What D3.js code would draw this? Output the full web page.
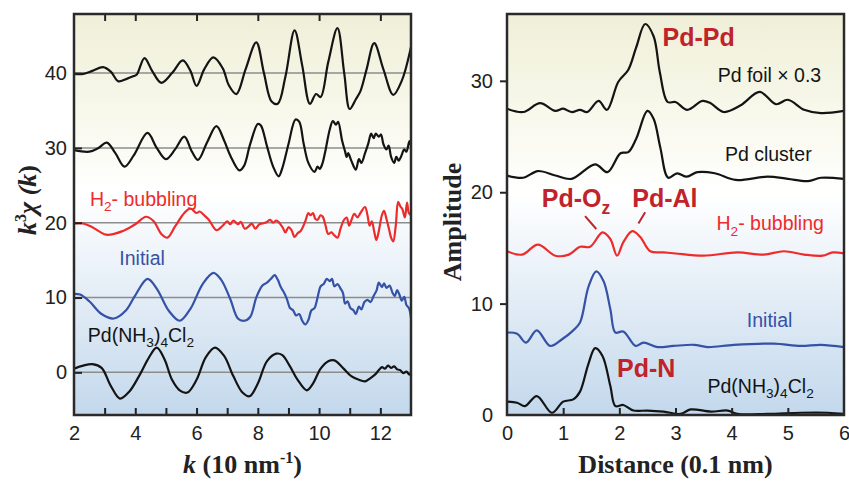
<!DOCTYPE html>
<html>
<head>
<meta charset="utf-8">
<script src="https://cdn.jsdelivr.net/npm/d3@7"></script>
<style>
  body { margin: 0; background: #fff; }
  svg { display: block; }
</style>
</head>
<body>
<svg width="849" height="481"></svg>
<script>
// ---- left panel: k^3 chi(k), offset curves ----
var kFoil = [[2.0,39.9],[2.3,39.9],[2.6,40.3],[2.95,40.8],[3.2,40.2],[3.45,38.9],[3.7,39.2],[3.95,39.6],[4.05,39.8],[4.3,42.0],[4.55,40.3],[4.85,38.7],[5.2,40.0],[5.55,41.7],[5.8,40.3],[6.0,38.3],[6.25,40.5],[6.55,42.1],[6.86,40.6],[7.05,38.4],[7.3,37.2],[7.6,40.5],[7.95,44.1],[8.2,40.0],[8.45,36.2],[8.65,35.9],[8.9,39.5],[9.2,45.7],[9.45,41.0],[9.7,35.9],[9.9,37.2],[10.05,36.8],[10.3,41.5],[10.6,46.0],[10.82,40.0],[11.0,35.2],[11.2,36.5],[11.35,37.6],[11.55,40.5],[11.8,44.0],[12.1,40.5],[12.42,37.1],[12.7,39.0],[13.0,43.5]];
var kCluster = [[2.0,29.7],[2.5,29.5],[2.8,30.0],[3.07,30.7],[3.35,29.3],[3.65,27.5],[3.95,29.0],[4.4,32.0],[4.7,30.0],[5.0,28.5],[5.3,29.8],[5.6,31.5],[5.85,29.5],[6.05,28.4],[6.35,30.8],[6.65,32.9],[6.9,31.0],[7.1,29.0],[7.4,27.0],[7.55,27.6],[7.75,30.5],[8.0,33.2],[8.1,33.0],[8.3,30.2],[8.5,27.5],[8.68,26.2],[8.8,27.3],[9.0,30.5],[9.23,33.8],[9.35,33.5],[9.5,30.5],[9.65,28.0],[9.85,26.8],[9.95,27.5],[10.02,27.2],[10.1,27.8],[10.2,29.5],[10.35,32.5],[10.45,33.6],[10.55,33.1],[10.62,33.5],[10.75,31.0],[10.85,29.5],[10.9,28.8],[10.95,29.3],[11.05,28.3],[11.2,27.1],[11.3,28.5],[11.38,28.0],[11.5,29.3],[11.6,30.5],[11.7,31.9],[11.78,31.3],[11.85,31.9],[11.95,31.5],[12.02,31.8],[12.1,30.5],[12.2,29.8],[12.27,30.3],[12.35,28.8],[12.45,28.0],[12.52,28.8],[12.6,28.3],[12.68,28.9],[12.78,29.8],[12.85,29.5],[12.95,30.9],[13.0,30.3]];
var kH2 = [[2.0,19.9],[2.3,19.9],[2.6,19.4],[3.05,18.4],[3.6,18.9],[4.0,19.8],[4.35,20.8],[4.6,20.2],[4.85,18.5],[5.05,18.0],[5.3,19.5],[5.6,21.3],[5.8,21.9],[6.0,21.3],[6.1,21.5],[6.25,21.0],[6.4,20.4],[6.65,19.0],[6.85,19.6],[7.0,20.2],[7.1,19.8],[7.2,20.3],[7.35,19.8],[7.45,20.1],[7.57,19.2],[7.7,19.5],[7.8,19.9],[7.92,19.2],[8.05,19.8],[8.15,19.9],[8.3,20.1],[8.4,20.4],[8.5,20.0],[8.6,20.3],[8.7,20.0],[8.82,19.3],[8.9,18.7],[9.0,19.4],[9.1,19.0],[9.2,18.1],[9.3,18.6],[9.4,18.9],[9.55,20.2],[9.65,21.3],[9.72,21.0],[9.8,21.3],[9.88,20.5],[9.95,20.4],[10.05,21.0],[10.12,20.8],[10.2,19.8],[10.3,18.5],[10.4,18.7],[10.5,18.3],[10.6,18.0],[10.7,19.2],[10.8,20.3],[10.9,20.7],[10.98,19.6],[11.05,20.3],[11.15,21.2],[11.25,20.7],[11.35,21.3],[11.5,22.1],[11.58,21.0],[11.65,19.6],[11.72,20.2],[11.8,18.8],[11.87,17.7],[11.95,18.9],[12.05,21.0],[12.12,21.6],[12.2,20.5],[12.28,19.2],[12.35,18.0],[12.42,17.5],[12.5,19.5],[12.58,22.8],[12.65,22.2],[12.72,21.8],[12.8,20.7],[12.87,22.7],[12.93,21.3],[13.0,21.0]];
var kInitial = [[2.0,10.5],[2.2,10.4],[2.5,9.5],[2.9,7.8],[3.3,7.2],[3.7,8.3],[4.0,10.3],[4.4,12.5],[4.7,11.2],[5.1,8.2],[5.45,6.9],[5.8,8.5],[6.2,11.8],[6.55,13.3],[6.8,12.4],[7.1,9.8],[7.35,7.2],[7.55,6.9],[7.75,7.4],[7.95,10.0],[8.15,11.6],[8.3,12.0],[8.45,12.6],[8.55,13.0],[8.65,12.4],[8.75,11.4],[8.85,10.7],[8.95,9.8],[9.05,8.6],[9.15,8.3],[9.25,7.6],[9.35,7.8],[9.45,6.9],[9.55,6.4],[9.65,7.0],[9.75,8.3],[9.85,8.6],[9.95,10.0],[10.05,11.5],[10.15,11.8],[10.25,12.5],[10.35,12.2],[10.42,12.5],[10.5,11.5],[10.6,11.8],[10.7,11.2],[10.78,10.6],[10.85,9.2],[10.93,9.5],[11.02,8.6],[11.12,8.3],[11.2,7.8],[11.3,8.8],[11.38,8.4],[11.48,9.4],[11.58,9.7],[11.68,9.4],[11.78,10.2],[11.88,11.0],[11.95,12.0],[12.05,11.4],[12.12,11.9],[12.2,11.3],[12.3,11.6],[12.4,10.6],[12.47,10.2],[12.55,11.0],[12.62,10.4],[12.7,9.6],[12.78,10.1],[12.85,9.0],[12.93,8.6],[13.0,7.3]];
var kComplex = [[2.0,0.5],[2.3,0.9],[2.6,1.1],[2.9,0.6],[3.2,-1.8],[3.5,-3.5],[3.8,-2.6],[4.15,-0.3],[4.45,2.0],[4.7,3.3],[4.95,1.8],[5.2,-1.0],[5.45,-2.4],[5.7,-2.7],[6.0,-1.0],[6.3,2.0],[6.6,3.3],[6.9,2.2],[7.2,-0.5],[7.5,-2.7],[7.73,-3.2],[8.0,-1.5],[8.3,1.5],[8.6,2.5],[8.8,2.3],[9.05,0.8],[9.3,-1.0],[9.6,-2.4],[9.8,-1.5],[10.05,0.5],[10.3,1.5],[10.5,1.6],[10.8,0.5],[11.05,-0.5],[11.3,-1.0],[11.5,-1.2],[11.7,-0.7],[11.85,-0.2],[11.95,0.3],[12.05,0.7],[12.15,0.5],[12.25,0.9],[12.35,0.6],[12.45,0.8],[12.55,0.4],[12.65,0.3],[12.75,-0.1],[12.85,0.1],[12.95,-0.3],[13.0,-0.1]];

// ---- right panel: FT amplitude vs distance ----
var rFoil = [[0,27.5],[0.29,27.2],[0.59,28.0],[0.86,27.3],[1.0,27.5],[1.15,27.2],[1.3,27.4],[1.43,27.2],[1.63,28.2],[1.78,27.4],[1.98,29.9],[2.16,31.0],[2.3,33.0],[2.46,35.1],[2.61,34.0],[2.72,30.8],[2.86,28.1],[3.0,28.1],[3.21,27.4],[3.48,28.2],[3.62,28.0],[3.86,27.2],[4.16,27.8],[4.5,29.0],[4.79,27.9],[5.0,28.3],[5.29,27.4],[5.59,27.1],[6.0,27.3]];
var rCluster = [[0,21.5],[0.29,21.3],[0.55,21.9],[0.86,21.5],[1.15,21.2],[1.57,22.5],[1.79,21.8],[2.02,23.5],[2.16,23.6],[2.3,24.8],[2.5,27.3],[2.61,26.6],[2.73,24.0],[2.87,21.3],[3.03,21.7],[3.2,21.4],[3.39,21.8],[3.7,21.7],[4.07,21.1],[4.64,21.4],[5.0,21.2],[5.36,21.0],[5.59,21.3],[6.0,21.2]];
var rH2 = [[0,14.7],[0.27,14.4],[0.55,15.3],[0.86,14.3],[1.1,14.4],[1.3,15.1],[1.48,15.1],[1.7,16.4],[1.84,15.8],[1.96,14.3],[2.07,15.5],[2.23,16.5],[2.37,16.0],[2.55,14.7],[2.79,14.6],[3.0,14.5],[3.5,14.3],[4.1,14.6],[4.57,14.4],[4.93,14.7],[5.29,14.4],[5.62,14.3],[5.8,14.6],[6.0,14.5]];
var rInitial = [[0,7.4],[0.18,7.3],[0.34,6.5],[0.53,7.6],[0.77,6.2],[0.98,6.8],[1.18,7.6],[1.3,8.3],[1.45,11.5],[1.59,12.9],[1.72,12.0],[1.84,9.5],[1.93,7.4],[2.07,7.5],[2.29,6.2],[2.43,6.5],[2.68,6.1],[2.96,6.2],[3.33,6.3],[3.57,6.1],[4.04,6.3],[4.75,6.4],[5.23,6.2],[5.59,6.3],[6.0,6.1]];
var rComplex = [[0,1.2],[0.18,1.1],[0.32,0.8],[0.53,1.7],[0.8,0.2],[1.0,1.2],[1.18,1.4],[1.3,2.1],[1.45,4.6],[1.57,6.0],[1.7,5.3],[1.84,2.6],[1.93,0.8],[2.07,0.9],[2.25,0.4],[2.5,0.4],[2.79,0.3],[3.09,0.1],[3.27,0.5],[3.63,0.3],[3.93,0.4],[4.1,0.1],[4.64,0.1],[5.23,0.2],[5.71,0.2],[6.0,0.1]];

var kTickLabels = [2, 4, 6, 8, 10, 12];
var chiTicks = [0, 10, 20, 30, 40];
var distTicks = [0, 1, 2, 3, 4, 5, 6];
var ampTicks = [0, 10, 20, 30];

var black = "#141414", red = "#ee2b2b", blue = "#3552a6", darkRed = "#c0232b";

var svg = d3.select("svg");
var sans = "'Liberation Sans', Arial, sans-serif",
  serif = "'Liberation Serif', 'Times New Roman', serif";

var defs = svg.append("defs");
var grad = defs.append("linearGradient")
  .attr("id", "bg").attr("x1", 0).attr("y1", 0).attr("x2", 0).attr("y2", 1);
grad.append("stop").attr("offset", "0%").attr("stop-color", "#efefd8");
grad.append("stop").attr("offset", "25%").attr("stop-color", "#f8f8ec");
grad.append("stop").attr("offset", "45%").attr("stop-color", "#ffffff");
grad.append("stop").attr("offset", "100%").attr("stop-color", "#c3d8ec");

var plotTop = 14, plotBottom = 415;

var xL = d3.scaleLinear().domain([2, 13]).range([74, 411]);
var yL = d3.scaleLinear().domain([-5.7, 47.9]).range([plotBottom, plotTop]);
var xR = d3.scaleLinear().domain([0, 6]).range([507, 844]);
var yR = d3.scaleLinear().domain([0, 36.0]).range([plotBottom, plotTop]);

function panel(id, x, y) {
  var g = svg.append("g");
  var x0 = x.range()[0], x1 = x.range()[1];
  defs.append("clipPath").attr("id", id)
    .append("rect").attr("x", x0).attr("y", plotTop).attr("width", x1 - x0).attr("height", plotBottom - plotTop);
  g.append("rect")
    .attr("x", x0).attr("y", plotTop).attr("width", x1 - x0).attr("height", plotBottom - plotTop)
    .attr("fill", "url(#bg)");
  return g;
}

function drawCurve(g, id, x, y, data, color) {
  var line = d3.line()
    .x(function(d) { return x(d[0]); })
    .y(function(d) { return y(d[1]); })
    .curve(d3.curveCatmullRom.alpha(0.5));
  g.append("path")
    .datum(data)
    .attr("clip-path", "url(#" + id + ")")
    .attr("d", line)
    .attr("fill", "none")
    .attr("stroke", color)
    .attr("stroke-width", 2.2)
    .attr("stroke-linejoin", "round");
}

function label(g, x, y, pos, parts, size, color, weight) {
  var t = g.append("text")
    .attr("x", x(pos[0])).attr("y", y(pos[1]))
    .attr("font-family", sans).attr("font-size", size)
    .attr("font-weight", weight || "normal")
    .attr("fill", color);
  parts.forEach(function(p) {
    var s = t.append("tspan").text(p[0]);
    if (p[1] === "sub") s.attr("dy", size * 0.28).attr("font-size", size * 0.7);
    if (p[1] === "back") s.attr("dy", -size * 0.28);
  });
  return t;
}

function styleAxis(a) {
  a.select(".domain").remove();
  a.selectAll("text").attr("font-family", sans).attr("font-size", 20).attr("fill", "#222");
  a.selectAll("line").attr("stroke", "#222").attr("stroke-width", 2);
}

// ---------- left panel ----------
var gL = panel("clipL", xL, yL);

gL.selectAll(".grid").data(chiTicks).enter().append("line")
  .attr("x1", xL(2)).attr("x2", xL(13))
  .attr("y1", function(d) { return yL(d); }).attr("y2", function(d) { return yL(d); })
  .attr("stroke", "#8c8c8c").attr("stroke-width", 1.5);

drawCurve(gL, "clipL", xL, yL, kFoil, black);
drawCurve(gL, "clipL", xL, yL, kCluster, black);
drawCurve(gL, "clipL", xL, yL, kH2, red);
drawCurve(gL, "clipL", xL, yL, kInitial, blue);
drawCurve(gL, "clipL", xL, yL, kComplex, black);

// inward tick marks
gL.append("g").attr("transform", "translate(0," + plotBottom + ")")
  .call(d3.axisBottom(xL).tickValues(d3.range(3, 13)).tickSize(-7).tickFormat(""))
  .call(styleAxis);
gL.append("g").attr("transform", "translate(0," + plotTop + ")")
  .call(d3.axisTop(xL).tickValues([3, 4, 6, 8, 10, 12]).tickSize(-7).tickFormat(""))
  .call(styleAxis);
gL.append("g").attr("transform", "translate(" + xL(2) + ",0)")
  .call(d3.axisLeft(yL).tickValues(chiTicks).tickSize(-8).tickFormat(""))
  .call(styleAxis);
// labels
gL.append("g").attr("transform", "translate(0," + plotBottom + ")")
  .call(d3.axisBottom(xL).tickValues(kTickLabels).tickSize(0).tickPadding(11))
  .call(styleAxis)
  .selectAll("text").attr("dy", "0.71em");
gL.append("g").attr("transform", "translate(" + xL(2) + ",0)")
  .call(d3.axisLeft(yL).tickValues(chiTicks).tickSize(0).tickPadding(7))
  .call(styleAxis);

gL.append("rect")
  .attr("x", xL(2)).attr("y", plotTop).attr("width", xL(13) - xL(2)).attr("height", plotBottom - plotTop)
  .attr("fill", "none").attr("stroke", "#2a2a2a").attr("stroke-width", 2.5);

label(gL, xL, yL, [2.52, 22.3], [["H"], ["2", "sub"], ["- bubbling", "back"]], 19.5, red);
label(gL, xL, yL, [3.48, 14.3], [["Initial"]], 19.5, blue);
label(gL, xL, yL, [2.45, 4.1], [["Pd(NH"], ["3", "sub"], [")", "back"], ["4", "sub"], ["Cl", "back"], ["2", "sub"]], 19.5, black);

// axis titles
var yt = svg.append("text")
  .attr("transform", "translate(36," + 200 + ") rotate(-90)")
  .attr("text-anchor", "middle")
  .attr("font-family", serif).attr("font-size", 26).attr("font-weight", "bold").attr("fill", "#222");
yt.append("tspan").attr("font-style", "italic").text("k");
yt.append("tspan").attr("dy", -10).attr("font-size", 16).text("3");
yt.append("tspan").attr("dy", 10).attr("font-style", "italic").text("\u03c7 (");
yt.append("tspan").attr("font-style", "italic").text("k");
yt.append("tspan").text(")");

var xt = svg.append("text")
  .attr("x", (xL(2) + xL(13)) / 2).attr("y", 473)
  .attr("text-anchor", "middle")
  .attr("font-family", serif).attr("font-size", 26).attr("font-weight", "bold").attr("fill", "#222");
xt.append("tspan").attr("font-style", "italic").text("k");
xt.append("tspan").text(" (10 nm");
xt.append("tspan").attr("dy", -10).attr("font-size", 16).text("-1");
xt.append("tspan").attr("dy", 10).text(")");

// ---------- right panel ----------
var gR = panel("clipR", xR, yR);

drawCurve(gR, "clipR", xR, yR, rFoil, black);
drawCurve(gR, "clipR", xR, yR, rCluster, black);
drawCurve(gR, "clipR", xR, yR, rH2, red);
drawCurve(gR, "clipR", xR, yR, rInitial, blue);
drawCurve(gR, "clipR", xR, yR, rComplex, black);

gR.append("g").attr("transform", "translate(0," + plotBottom + ")")
  .call(d3.axisBottom(xR).tickValues(distTicks.slice(1, 6)).tickSize(-7).tickFormat(""))
  .call(styleAxis);
gR.append("g").attr("transform", "translate(" + xR(0) + ",0)")
  .call(d3.axisLeft(yR).tickValues(ampTicks.slice(1)).tickSize(7).tickFormat(""))
  .call(styleAxis);
gR.append("g").attr("transform", "translate(0," + plotBottom + ")")
  .call(d3.axisBottom(xR).tickValues(distTicks).tickSize(0).tickPadding(11).tickFormat(d3.format("d")))
  .call(styleAxis)
  .selectAll("text").attr("dy", "0.71em");
gR.append("g").attr("transform", "translate(" + xR(0) + ",0)")
  .call(d3.axisLeft(yR).tickValues(ampTicks).tickSize(0).tickPadding(14))
  .call(styleAxis);

gR.append("rect")
  .attr("x", xR(0)).attr("y", plotTop).attr("width", xR(6) - xR(0)).attr("height", plotBottom - plotTop)
  .attr("fill", "none").attr("stroke", "#2a2a2a").attr("stroke-width", 2.5);

label(gR, xR, yR, [2.77, 33.1], [["Pd-Pd"]], 25, darkRed, "bold");
label(gR, xR, yR, [3.75, 29.9], [["Pd foil \u00d7 0.3"]], 19.5, black);
label(gR, xR, yR, [3.88, 22.8], [["Pd cluster"]], 19.5, black);
label(gR, xR, yR, [0.62, 18.65], [["Pd-O"], ["z", "sub"]], 25, darkRed, "bold");
label(gR, xR, yR, [2.23, 18.65], [["Pd-Al"]], 25, darkRed, "bold");
label(gR, xR, yR, [3.73, 16.6], [["H"], ["2", "sub"], ["- bubbling", "back"]], 19.5, red);
label(gR, xR, yR, [4.27, 7.9], [["Initial"]], 19.5, blue);
label(gR, xR, yR, [1.96, 3.4], [["Pd-N"]], 25, darkRed, "bold");
label(gR, xR, yR, [3.57, 2.0], [["Pd(NH"], ["3", "sub"], [")", "back"], ["4", "sub"], ["Cl", "back"], ["2", "sub"]], 19.5, black);

// leader lines for Pd-Oz and Pd-Al
var leaders = [[[1.39, 17.85], [1.59, 16.7]], [[2.46, 18.2], [2.34, 17.2]]];
gR.selectAll(".leader").data(leaders).enter().append("line")
  .attr("x1", function(d) { return xR(d[0][0]); }).attr("y1", function(d) { return yR(d[0][1]); })
  .attr("x2", function(d) { return xR(d[1][0]); }).attr("y2", function(d) { return yR(d[1][1]); })
  .attr("stroke", darkRed).attr("stroke-width", 2);

svg.append("text")
  .attr("transform", "translate(461,222) rotate(-90)")
  .attr("text-anchor", "middle")
  .attr("font-family", serif).attr("font-size", 26).attr("font-weight", "bold").attr("fill", "#222")
  .text("Amplitude");
svg.append("text")
  .attr("x", (xR(0) + xR(6)) / 2).attr("y", 473)
  .attr("text-anchor", "middle")
  .attr("font-family", serif).attr("font-size", 26).attr("font-weight", "bold").attr("fill", "#222")
  .text("Distance (0.1 nm)");
</script>
</body>
</html>
